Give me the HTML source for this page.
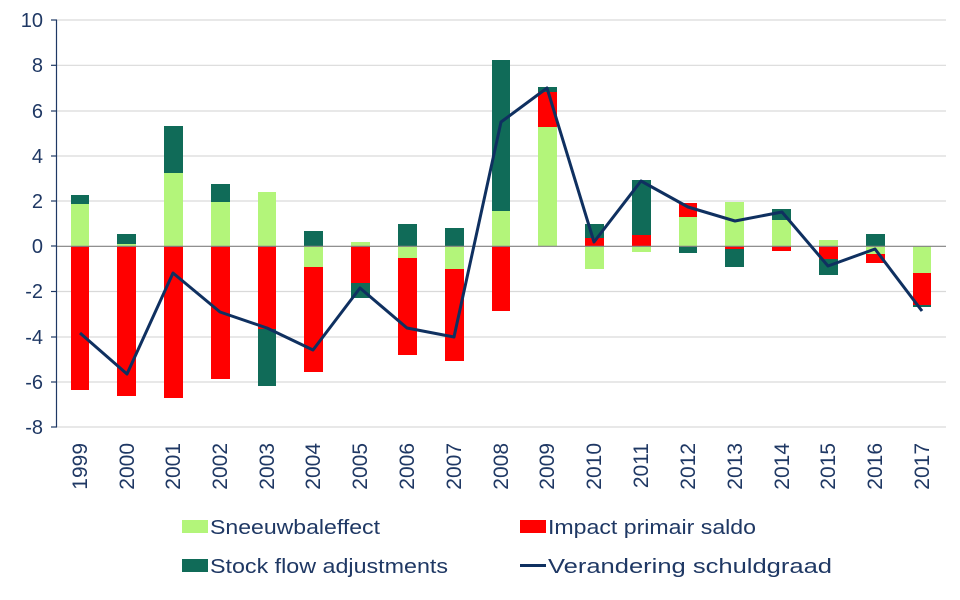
<!DOCTYPE html>
<html><head><meta charset="utf-8"><style>
html,body{margin:0;padding:0;background:#fff;}
svg{display:block;font-family:"Liberation Sans",sans-serif;}
</style></head><body>
<svg width="960" height="600" viewBox="0 0 960 600" xmlns="http://www.w3.org/2000/svg">
<g stroke="#d9d9d9" stroke-width="1.2">
<line x1="57" x2="946" y1="20" y2="20"/><line x1="57" x2="946" y1="65.3" y2="65.3"/>
<line x1="57" x2="946" y1="111" y2="111"/><line x1="57" x2="946" y1="156" y2="156"/>
<line x1="57" x2="946" y1="201" y2="201"/><line x1="57" x2="946" y1="291.5" y2="291.5"/>
<line x1="57" x2="946" y1="337" y2="337"/><line x1="57" x2="946" y1="382" y2="382"/>
<line x1="57" x2="946" y1="427" y2="427"/>
</g>
<g>
<rect x="71" y="204" width="18" height="42" fill="#b3f57a"/><rect x="71" y="195" width="18" height="9" fill="#106b58"/><rect x="71" y="246" width="18" height="144" fill="#f00"/>
<rect x="117" y="244" width="19" height="2" fill="#b3f57a"/><rect x="117" y="234" width="19" height="10" fill="#106b58"/><rect x="117" y="246" width="19" height="150" fill="#f00"/>
<rect x="164" y="173" width="19" height="73" fill="#b3f57a"/><rect x="164" y="126" width="19" height="47" fill="#106b58"/><rect x="164" y="246" width="19" height="152" fill="#f00"/>
<rect x="211" y="202" width="19" height="44" fill="#b3f57a"/><rect x="211" y="184" width="19" height="18" fill="#106b58"/><rect x="211" y="246" width="19" height="133" fill="#f00"/>
<rect x="258" y="192" width="18" height="54" fill="#b3f57a"/><rect x="258" y="246" width="18" height="83" fill="#f00"/><rect x="258" y="329" width="18" height="57" fill="#106b58"/>
<rect x="304" y="231" width="19" height="15" fill="#106b58"/><rect x="304" y="246" width="19" height="21" fill="#b3f57a"/><rect x="304" y="267" width="19" height="105" fill="#f00"/>
<rect x="351" y="242" width="19" height="4" fill="#b3f57a"/><rect x="351" y="246" width="19" height="37" fill="#f00"/><rect x="351" y="283" width="19" height="15" fill="#106b58"/>
<rect x="398" y="224" width="19" height="22" fill="#106b58"/><rect x="398" y="246" width="19" height="12" fill="#b3f57a"/><rect x="398" y="258" width="19" height="97" fill="#f00"/>
<rect x="445" y="228" width="19" height="18" fill="#106b58"/><rect x="445" y="246" width="19" height="23" fill="#b3f57a"/><rect x="445" y="269" width="19" height="92" fill="#f00"/>
<rect x="492" y="211" width="18" height="35" fill="#b3f57a"/><rect x="492" y="60" width="18" height="151" fill="#106b58"/><rect x="492" y="246" width="18" height="65" fill="#f00"/>
<rect x="538" y="127" width="19" height="119" fill="#b3f57a"/><rect x="538" y="92" width="19" height="35" fill="#f00"/><rect x="538" y="87" width="19" height="5" fill="#106b58"/>
<rect x="585" y="238" width="19" height="8" fill="#f00"/><rect x="585" y="224" width="19" height="14" fill="#106b58"/><rect x="585" y="246" width="19" height="23" fill="#b3f57a"/>
<rect x="632" y="235" width="19" height="11" fill="#f00"/><rect x="632" y="180" width="19" height="55" fill="#106b58"/><rect x="632" y="246" width="19" height="6" fill="#b3f57a"/>
<rect x="679" y="217" width="18" height="29" fill="#b3f57a"/><rect x="679" y="203" width="18" height="14" fill="#f00"/><rect x="679" y="246" width="18" height="7" fill="#106b58"/>
<rect x="725" y="202" width="19" height="44" fill="#b3f57a"/><rect x="725" y="246" width="19" height="3" fill="#f00"/><rect x="725" y="249" width="19" height="18" fill="#106b58"/>
<rect x="772" y="220" width="19" height="26" fill="#b3f57a"/><rect x="772" y="209" width="19" height="11" fill="#106b58"/><rect x="772" y="246" width="19" height="5" fill="#f00"/>
<rect x="819" y="240" width="19" height="6" fill="#b3f57a"/><rect x="819" y="246" width="19" height="13" fill="#f00"/><rect x="819" y="259" width="19" height="16" fill="#106b58"/>
<rect x="866" y="234" width="19" height="12" fill="#106b58"/><rect x="866" y="246" width="19" height="8" fill="#b3f57a"/><rect x="866" y="254" width="19" height="9" fill="#f00"/>
<rect x="913" y="246" width="18" height="27" fill="#b3f57a"/><rect x="913" y="273" width="18" height="32" fill="#f00"/><rect x="913" y="305" width="18" height="2" fill="#106b58"/>
</g>
<line x1="57" x2="946" y1="246.3" y2="246.3" stroke="#808080" stroke-width="1.2"/>
<g stroke="#1f3864" stroke-width="1.2">
<line x1="56.5" x2="56.5" y1="20" y2="427"/>
<line x1="51" x2="57" y1="20" y2="20"/><line x1="51" x2="57" y1="65.3" y2="65.3"/><line x1="51" x2="57" y1="111" y2="111"/>
<line x1="51" x2="57" y1="156" y2="156"/><line x1="51" x2="57" y1="201" y2="201"/><line x1="51" x2="57" y1="246" y2="246"/>
<line x1="51" x2="57" y1="291.5" y2="291.5"/><line x1="51" x2="57" y1="337" y2="337"/><line x1="51" x2="57" y1="382" y2="382"/>
<line x1="51" x2="57" y1="427" y2="427"/>
</g>
<polyline fill="none" stroke="#0f3060" stroke-width="3" stroke-linejoin="round" points="80,333 127,374 173,273 220,312 267,328 313,350 360,288 407,328 454,337 501,122 547,88 594,242 641,181 688,207 735,221 782,212 828,266 875,249 922,311"/>
<g fill="#1f3864" font-size="20" text-anchor="end">
<text x="43" y="27">10</text><text x="43" y="72">8</text><text x="43" y="118">6</text>
<text x="43" y="163">4</text><text x="43" y="208">2</text><text x="43" y="253">0</text>
<text x="43" y="298">-2</text><text x="43" y="344">-4</text><text x="43" y="389">-6</text><text x="43" y="434">-8</text>
</g>
<g fill="#1f3864" font-size="21" text-anchor="end">
<text transform="translate(87,443) rotate(-90)">1999</text>
<text transform="translate(134,443) rotate(-90)">2000</text>
<text transform="translate(180,443) rotate(-90)">2001</text>
<text transform="translate(227,443) rotate(-90)">2002</text>
<text transform="translate(274,443) rotate(-90)">2003</text>
<text transform="translate(320,443) rotate(-90)">2004</text>
<text transform="translate(367,443) rotate(-90)">2005</text>
<text transform="translate(414,443) rotate(-90)">2006</text>
<text transform="translate(461,443) rotate(-90)">2007</text>
<text transform="translate(508,443) rotate(-90)">2008</text>
<text transform="translate(554,443) rotate(-90)">2009</text>
<text transform="translate(601,443) rotate(-90)">2010</text>
<text transform="translate(648,443) rotate(-90)">2011</text>
<text transform="translate(695,443) rotate(-90)">2012</text>
<text transform="translate(742,443) rotate(-90)">2013</text>
<text transform="translate(789,443) rotate(-90)">2014</text>
<text transform="translate(835,443) rotate(-90)">2015</text>
<text transform="translate(882,443) rotate(-90)">2016</text>
<text transform="translate(929,443) rotate(-90)">2017</text>
</g>
<rect x="182" y="520" width="26" height="13" fill="#b3f57a"/>
<rect x="182" y="559" width="26" height="13" fill="#106b58"/>
<rect x="520" y="520" width="26" height="13" fill="#f00"/>
<line x1="520" x2="546" y1="565.5" y2="565.5" stroke="#0f3060" stroke-width="3"/>
<g fill="#1f3864" font-size="20">
<text x="210" y="534" textLength="170" lengthAdjust="spacingAndGlyphs">Sneeuwbaleffect</text>
<text x="210" y="573" textLength="238" lengthAdjust="spacingAndGlyphs">Stock flow adjustments</text>
<text x="548" y="534" textLength="208" lengthAdjust="spacingAndGlyphs">Impact primair saldo</text>
<text x="548" y="573" textLength="284" lengthAdjust="spacingAndGlyphs">Verandering schuldgraad</text>
</g>
</svg>
</body></html>
